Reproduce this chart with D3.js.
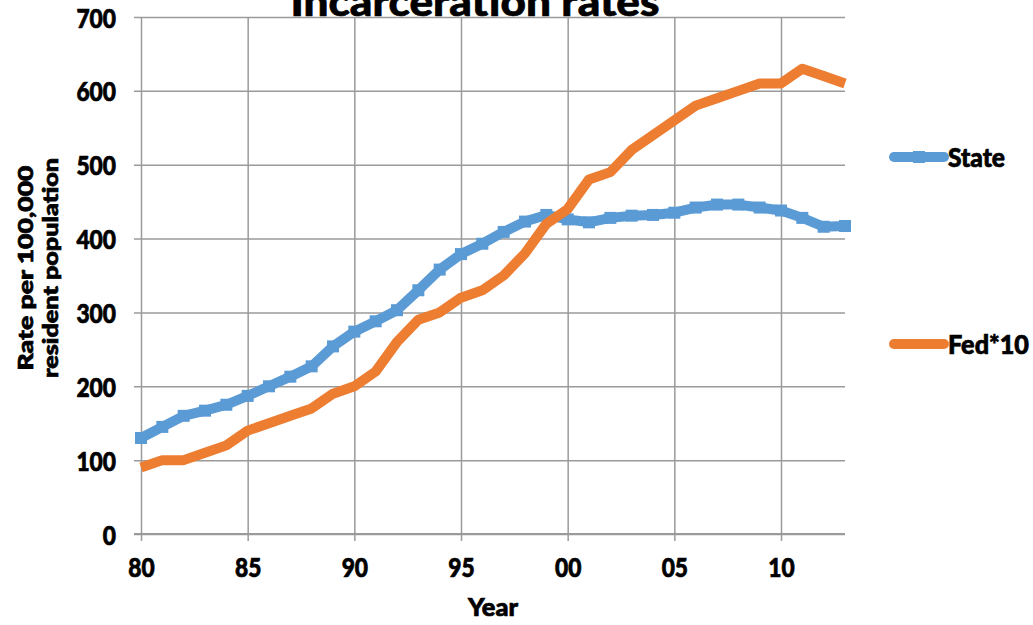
<!DOCTYPE html>
<html>
<head>
<meta charset="utf-8">
<script src="https://cdn.jsdelivr.net/npm/d3@7"></script>
<style>
  html, body { margin: 0; padding: 0; background: #fff; }
  svg { display: block; font-family: Lato, "Open Sans", sans-serif; font-weight: 700; }
  .lbl { font-family: Lato, "Open Sans", sans-serif; font-weight: 900; fill: #000; stroke: #000; stroke-width: 0.7px; }
</style>
</head>
<body>
<svg id="chart" width="1033" height="625"></svg>
<script>
// Incarceration rates per 100,000 resident population, 1980–2013
const years = d3.range(1980, 2014);
const stateRates = [130, 145, 160, 167, 175, 187, 200, 213, 227, 254,
                    274, 288, 303, 330, 358, 379, 393, 409, 423, 432,
                    426, 422, 428, 431, 432, 435, 442, 446, 446, 442,
                    438, 428, 416, 417];
const fedRatesX10 = [90, 100, 100, 110, 120, 140, 150, 160, 170, 190,
                     200, 220, 260, 290, 300, 320, 330, 350, 380, 420,
                     440, 480, 490, 520, 540, 560, 580, 590, 600, 610,
                     610, 630, 620, 610];
const yTicks = [0, 100, 200, 300, 400, 500, 600, 700];
const xTicks = [1980, 1985, 1990, 1995, 2000, 2005, 2010];

const series = [
  { name: "State", values: stateRates, color: "#5B9BD5", markers: true },
  { name: "Fed*10", values: fedRatesX10, color: "#ED7D31", markers: false }
];

const svg = d3.select("#chart");
const plot = { left: 141, right: 845, top: 17, bottom: 534 };
const digitW = 13.2; // condensed width per tick-label character

const x = d3.scaleLinear().domain([1980, 2013]).range([plot.left, plot.right]);
const y = d3.scaleLinear().domain([0, 700]).range([plot.bottom, plot.top]);

// horizontal gridlines + y tick labels
const yAxis = d3.axisLeft(y).tickValues(yTicks).tickSize(-(plot.right - plot.left)).tickSizeOuter(0).tickPadding(25);
const gy = svg.append("g").attr("transform", `translate(${plot.left},0)`).call(yAxis);
gy.select(".domain").remove();
gy.selectAll(".tick line").attr("stroke", "#9a9a9a").attr("stroke-width", 1.5).attr("x1", -7);
gy.selectAll(".tick text").attr("class", "lbl").attr("font-size", 26).attr("dy", 10)
  .attr("textLength", d => String(d).length * digitW).attr("lengthAdjust", "spacingAndGlyphs");

// vertical gridlines + x tick labels
const xAxis = d3.axisBottom(x).tickValues(xTicks).tickSize(-(plot.bottom - plot.top)).tickSizeOuter(0)
  .tickFormat(d => String(d % 100).padStart(2, "0")).tickPadding(0);
const gx = svg.append("g").attr("transform", `translate(0,${plot.bottom})`).call(xAxis);
gx.select(".domain").remove();
gx.selectAll(".tick line").attr("stroke", "#9a9a9a").attr("stroke-width", 1.5).attr("y1", 7);
gx.selectAll(".tick text").attr("class", "lbl").attr("font-size", 26).attr("y", 43).attr("dy", 0)
  .attr("textLength", 2 * digitW).attr("lengthAdjust", "spacingAndGlyphs");

// zero baseline drawn over the gridlines
svg.append("line").attr("x1", plot.left - 7).attr("x2", plot.right).attr("y1", y(0)).attr("y2", y(0))
  .attr("stroke", "#9a9a9a").attr("stroke-width", 2);

// series lines
const line = d3.line().x((d, i) => x(years[i])).y(d => y(d)).curve(d3.curveLinear);
series.forEach(s => {
  svg.append("path").datum(s.values).attr("d", line)
    .attr("fill", "none").attr("stroke", s.color).attr("stroke-width", 10)
    .attr("stroke-linejoin", "round").attr("stroke-linecap", "butt");
  if (s.markers) {
    svg.append("g").selectAll("rect").data(s.values).join("rect")
      .attr("x", (d, i) => x(years[i]) - 6).attr("y", d => y(d) - 6)
      .attr("width", 12).attr("height", 12).attr("fill", s.color);
  }
});

// legend
const legendY = [157, 344];
const legendW = [57, 81];
series.forEach((s, i) => {
  const g = svg.append("g").attr("transform", `translate(0,${legendY[i]})`);
  g.append("line").attr("x1", 894).attr("x2", 944).attr("y1", 0).attr("y2", 0)
    .attr("stroke", s.color).attr("stroke-width", 10).attr("stroke-linecap", "round");
  if (s.markers) g.append("rect").attr("x", 913).attr("y", -6).attr("width", 12).attr("height", 12).attr("fill", s.color);
  g.append("text").attr("class", "lbl").attr("x", 948).attr("y", 10).attr("font-size", 26)
    .attr("textLength", legendW[i]).attr("lengthAdjust", "spacingAndGlyphs").text(s.name);
});

// title (top edge runs off the canvas)
svg.append("text").attr("class", "lbl").attr("x", 475).attr("y", 16).attr("text-anchor", "middle")
  .attr("font-size", 40).attr("textLength", 369).attr("lengthAdjust", "spacingAndGlyphs")
  .text("Incarceration rates");

// axis titles
svg.append("text").attr("class", "lbl").attr("x", 493).attr("y", 616).attr("text-anchor", "middle")
  .attr("font-size", 25).attr("textLength", 50).attr("lengthAdjust", "spacingAndGlyphs").text("Year");
const yt = svg.append("text").attr("class", "lbl").attr("transform", "translate(33,268) rotate(-90)")
  .attr("text-anchor", "middle").attr("font-size", 21);
yt.append("tspan").attr("x", 0).attr("y", 0).attr("textLength", 205).attr("lengthAdjust", "spacingAndGlyphs").text("Rate per 100,000");
yt.append("tspan").attr("x", 0).attr("y", 25).attr("textLength", 220).attr("lengthAdjust", "spacingAndGlyphs").text("resident population");
</script>
</body>
</html>
